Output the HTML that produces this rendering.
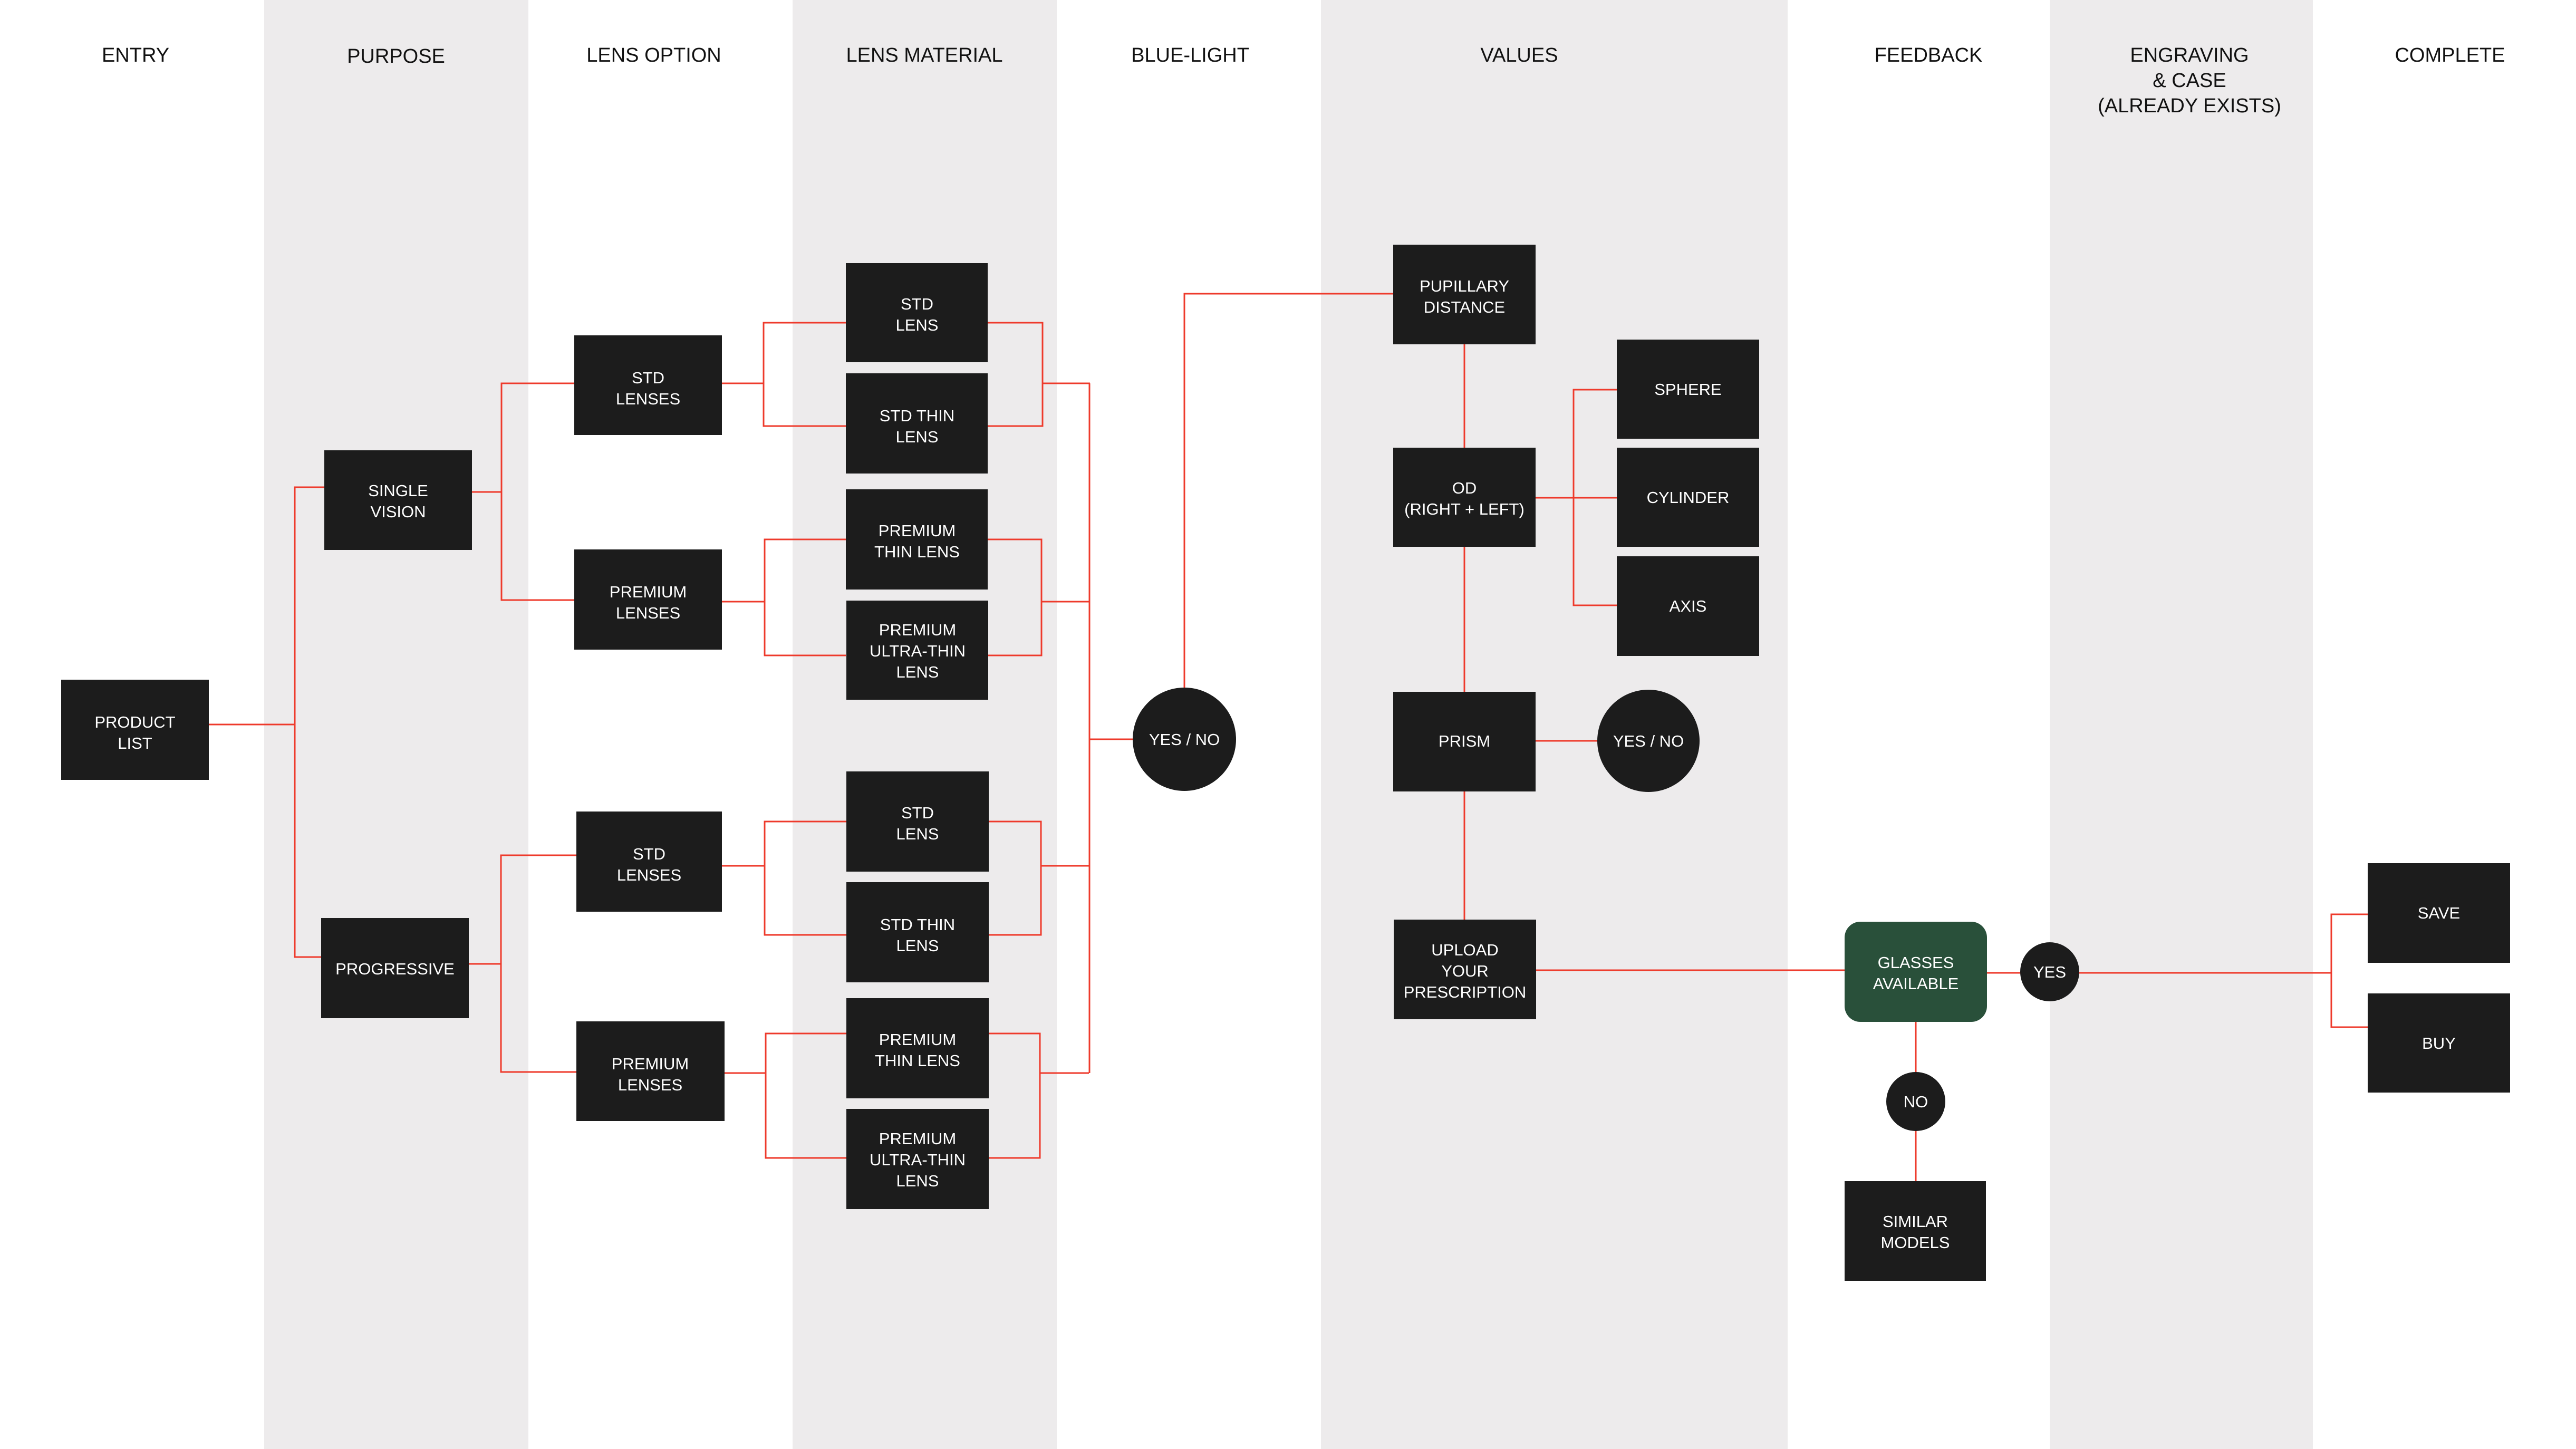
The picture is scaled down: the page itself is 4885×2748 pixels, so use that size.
<!DOCTYPE html>
<html><head><meta charset="utf-8"><style>
html,body{margin:0;padding:0;background:#fff;}
svg{display:block;}
text{font-family:"Liberation Sans",Arial,sans-serif;}
.h{font-size:38px;fill:#111;text-anchor:middle;}
.b{font-size:31px;fill:#fff;text-anchor:middle;}
</style></head><body>
<svg width="4885" height="2748" viewBox="0 0 4885 2748" xmlns="http://www.w3.org/2000/svg">
<rect x="0" y="0" width="4885" height="2748" fill="#fff"/>
<g fill="#edebec">
<rect x="501" y="0" width="501" height="2748"/>
<rect x="1503" y="0" width="501" height="2748"/>
<rect x="2505" y="0" width="885" height="2748"/>
<rect x="3887" y="0" width="499" height="2748"/>
</g>
<g class="h">
<text x="257" y="117" class="h">ENTRY</text>
<text x="751" y="119" class="h">PURPOSE</text>
<text x="1240" y="117" class="h">LENS OPTION</text>
<text x="1753" y="117" class="h">LENS MATERIAL</text>
<text x="2257" y="117" class="h">BLUE-LIGHT</text>
<text x="2881" y="117" class="h">VALUES</text>
<text x="3657" y="117" class="h">FEEDBACK</text>
<text x="4152" y="117" class="h">ENGRAVING</text>
<text x="4152" y="165" class="h">&amp; CASE</text>
<text x="4152" y="213" class="h">(ALREADY EXISTS)</text>
<text x="4646" y="117" class="h">COMPLETE</text>
</g>
<g stroke="#ee3a2b" stroke-width="3" fill="none">
<polyline points="396,1374 559,1374"/>
<polyline points="615,924 559,924 559,1815 609,1815"/>
<polyline points="895,933 951,933"/>
<polyline points="1089,727 951,727 951,1138 1089,1138"/>
<polyline points="889,1828 950,1828"/>
<polyline points="1093,1622 950,1622 950,2033 1093,2033"/>
<polyline points="1369,727 1448,727"/>
<polyline points="1604,612 1448,612 1448,808 1604,808"/>
<polyline points="1873,612 1977,612 1977,808 1873,808"/>
<polyline points="1977,727 2067,727"/>
<polyline points="1369,1141 1450,1141"/>
<polyline points="1604,1023 1450,1023 1450,1243 1604,1243"/>
<polyline points="1873,1023 1975,1023 1975,1243 1873,1243"/>
<polyline points="1975,1141 2067,1141"/>
<polyline points="1369,1642 1450,1642"/>
<polyline points="1605,1558 1450,1558 1450,1773 1605,1773"/>
<polyline points="1875,1558 1974,1558 1974,1773 1875,1773"/>
<polyline points="1974,1642 2065,1642"/>
<polyline points="1374,2035 1452,2035"/>
<polyline points="1605,1960 1452,1960 1452,2196 1605,2196"/>
<polyline points="1875,1960 1972,1960 1972,2196 1875,2196"/>
<polyline points="1972,2035 2065,2035"/>
<polyline points="2066,727 2066,2035"/>
<polyline points="2066,1402 2150,1402"/>
<polyline points="2246,1304 2246,557 2642,557"/>
<polyline points="2777,653 2777,1744"/>
<polyline points="2912,944 3066,944"/>
<polyline points="3066,739 2984,739 2984,1148 3066,1148"/>
<polyline points="2912,1405 3030,1405"/>
<polyline points="2913,1840 3499,1840"/>
<polyline points="3766,1845 4421,1845"/>
<polyline points="4490,1734 4421,1734 4421,1948 4490,1948"/>
<polyline points="3633,1936 3633,2240"/>
</g>
<g fill="#1c1c1c">
<rect x="116" y="1289" width="280" height="190"/>
<rect x="615" y="854" width="280" height="189"/>
<rect x="609" y="1741" width="280" height="190"/>
<rect x="1089" y="636" width="280" height="189"/>
<rect x="1089" y="1042" width="280" height="190"/>
<rect x="1093" y="1539" width="276" height="190"/>
<rect x="1093" y="1937" width="281" height="189"/>
<rect x="1604" y="499" width="269" height="188"/>
<rect x="1604" y="708" width="269" height="190"/>
<rect x="1604" y="928" width="269" height="190"/>
<rect x="1605" y="1139" width="269" height="188"/>
<rect x="1605" y="1463" width="270" height="190"/>
<rect x="1605" y="1673" width="270" height="190"/>
<rect x="1605" y="1893" width="270" height="190"/>
<rect x="1605" y="2103" width="270" height="190"/>
<circle cx="2246" cy="1402" r="98"/>
<rect x="2642" y="464" width="270" height="189"/>
<rect x="2642" y="849" width="270" height="188"/>
<rect x="2642" y="1312" width="270" height="189"/>
<rect x="2643" y="1744" width="270" height="189"/>
<rect x="3066" y="644" width="270" height="188"/>
<rect x="3066" y="849" width="270" height="188"/>
<rect x="3066" y="1055" width="270" height="189"/>
<circle cx="3126" cy="1405" r="97"/>
<circle cx="3887" cy="1843" r="56"/>
<circle cx="3633" cy="2089" r="56"/>
<rect x="3498" y="2240" width="268" height="189"/>
<rect x="4490" y="1637" width="270" height="189"/>
<rect x="4490" y="1884" width="270" height="188"/>
</g>
<rect x="3498" y="1748" width="270" height="190" rx="30" fill="#29503a"/>
<g class="b">
<text x="256" y="1380" class="b">PRODUCT</text><text x="256" y="1420" class="b">LIST</text>
<text x="755" y="941" class="b">SINGLE</text><text x="755" y="981" class="b">VISION</text>
<text x="749" y="1848" class="b">PROGRESSIVE</text>
<text x="1229" y="727" class="b">STD</text><text x="1229" y="767" class="b">LENSES</text>
<text x="1229" y="1133" class="b">PREMIUM</text><text x="1229" y="1173" class="b">LENSES</text>
<text x="1231" y="1630" class="b">STD</text><text x="1231" y="1670" class="b">LENSES</text>
<text x="1233" y="2028" class="b">PREMIUM</text><text x="1233" y="2068" class="b">LENSES</text>
<text x="1739" y="587" class="b">STD</text><text x="1739" y="627" class="b">LENS</text>
<text x="1739" y="799" class="b">STD THIN</text><text x="1739" y="839" class="b">LENS</text>
<text x="1739" y="1017" class="b">PREMIUM</text><text x="1739" y="1057" class="b">THIN LENS</text>
<text x="1740" y="1205" class="b">PREMIUM</text><text x="1740" y="1245" class="b">ULTRA-THIN</text><text x="1740" y="1285" class="b">LENS</text>
<text x="1740" y="1552" class="b">STD</text><text x="1740" y="1592" class="b">LENS</text>
<text x="1740" y="1764" class="b">STD THIN</text><text x="1740" y="1804" class="b">LENS</text>
<text x="1740" y="1982" class="b">PREMIUM</text><text x="1740" y="2022" class="b">THIN LENS</text>
<text x="1740" y="2170" class="b">PREMIUM</text><text x="1740" y="2210" class="b">ULTRA-THIN</text><text x="1740" y="2250" class="b">LENS</text>
<text x="2246" y="1413" class="b">YES / NO</text>
<text x="2777" y="553" class="b">PUPILLARY</text><text x="2777" y="593" class="b">DISTANCE</text>
<text x="2777" y="936" class="b">OD</text><text x="2777" y="976" class="b">(RIGHT + LEFT)</text>
<text x="2777" y="1416" class="b">PRISM</text>
<text x="2778" y="1812" class="b">UPLOAD</text><text x="2778" y="1852" class="b">YOUR</text><text x="2778" y="1892" class="b">PRESCRIPTION</text>
<text x="3201" y="749" class="b">SPHERE</text>
<text x="3201" y="954" class="b">CYLINDER</text>
<text x="3201" y="1160" class="b">AXIS</text>
<text x="3126" y="1416" class="b">YES / NO</text>
<text x="3633" y="1836" class="b">GLASSES</text><text x="3633" y="1876" class="b">AVAILABLE</text>
<text x="3887" y="1854" class="b">YES</text>
<text x="3633" y="2100" class="b">NO</text>
<text x="3632" y="2327" class="b">SIMILAR</text><text x="3632" y="2367" class="b">MODELS</text>
<text x="4625" y="1742" class="b">SAVE</text>
<text x="4625" y="1989" class="b">BUY</text>
</g>
</svg>
</body></html>
